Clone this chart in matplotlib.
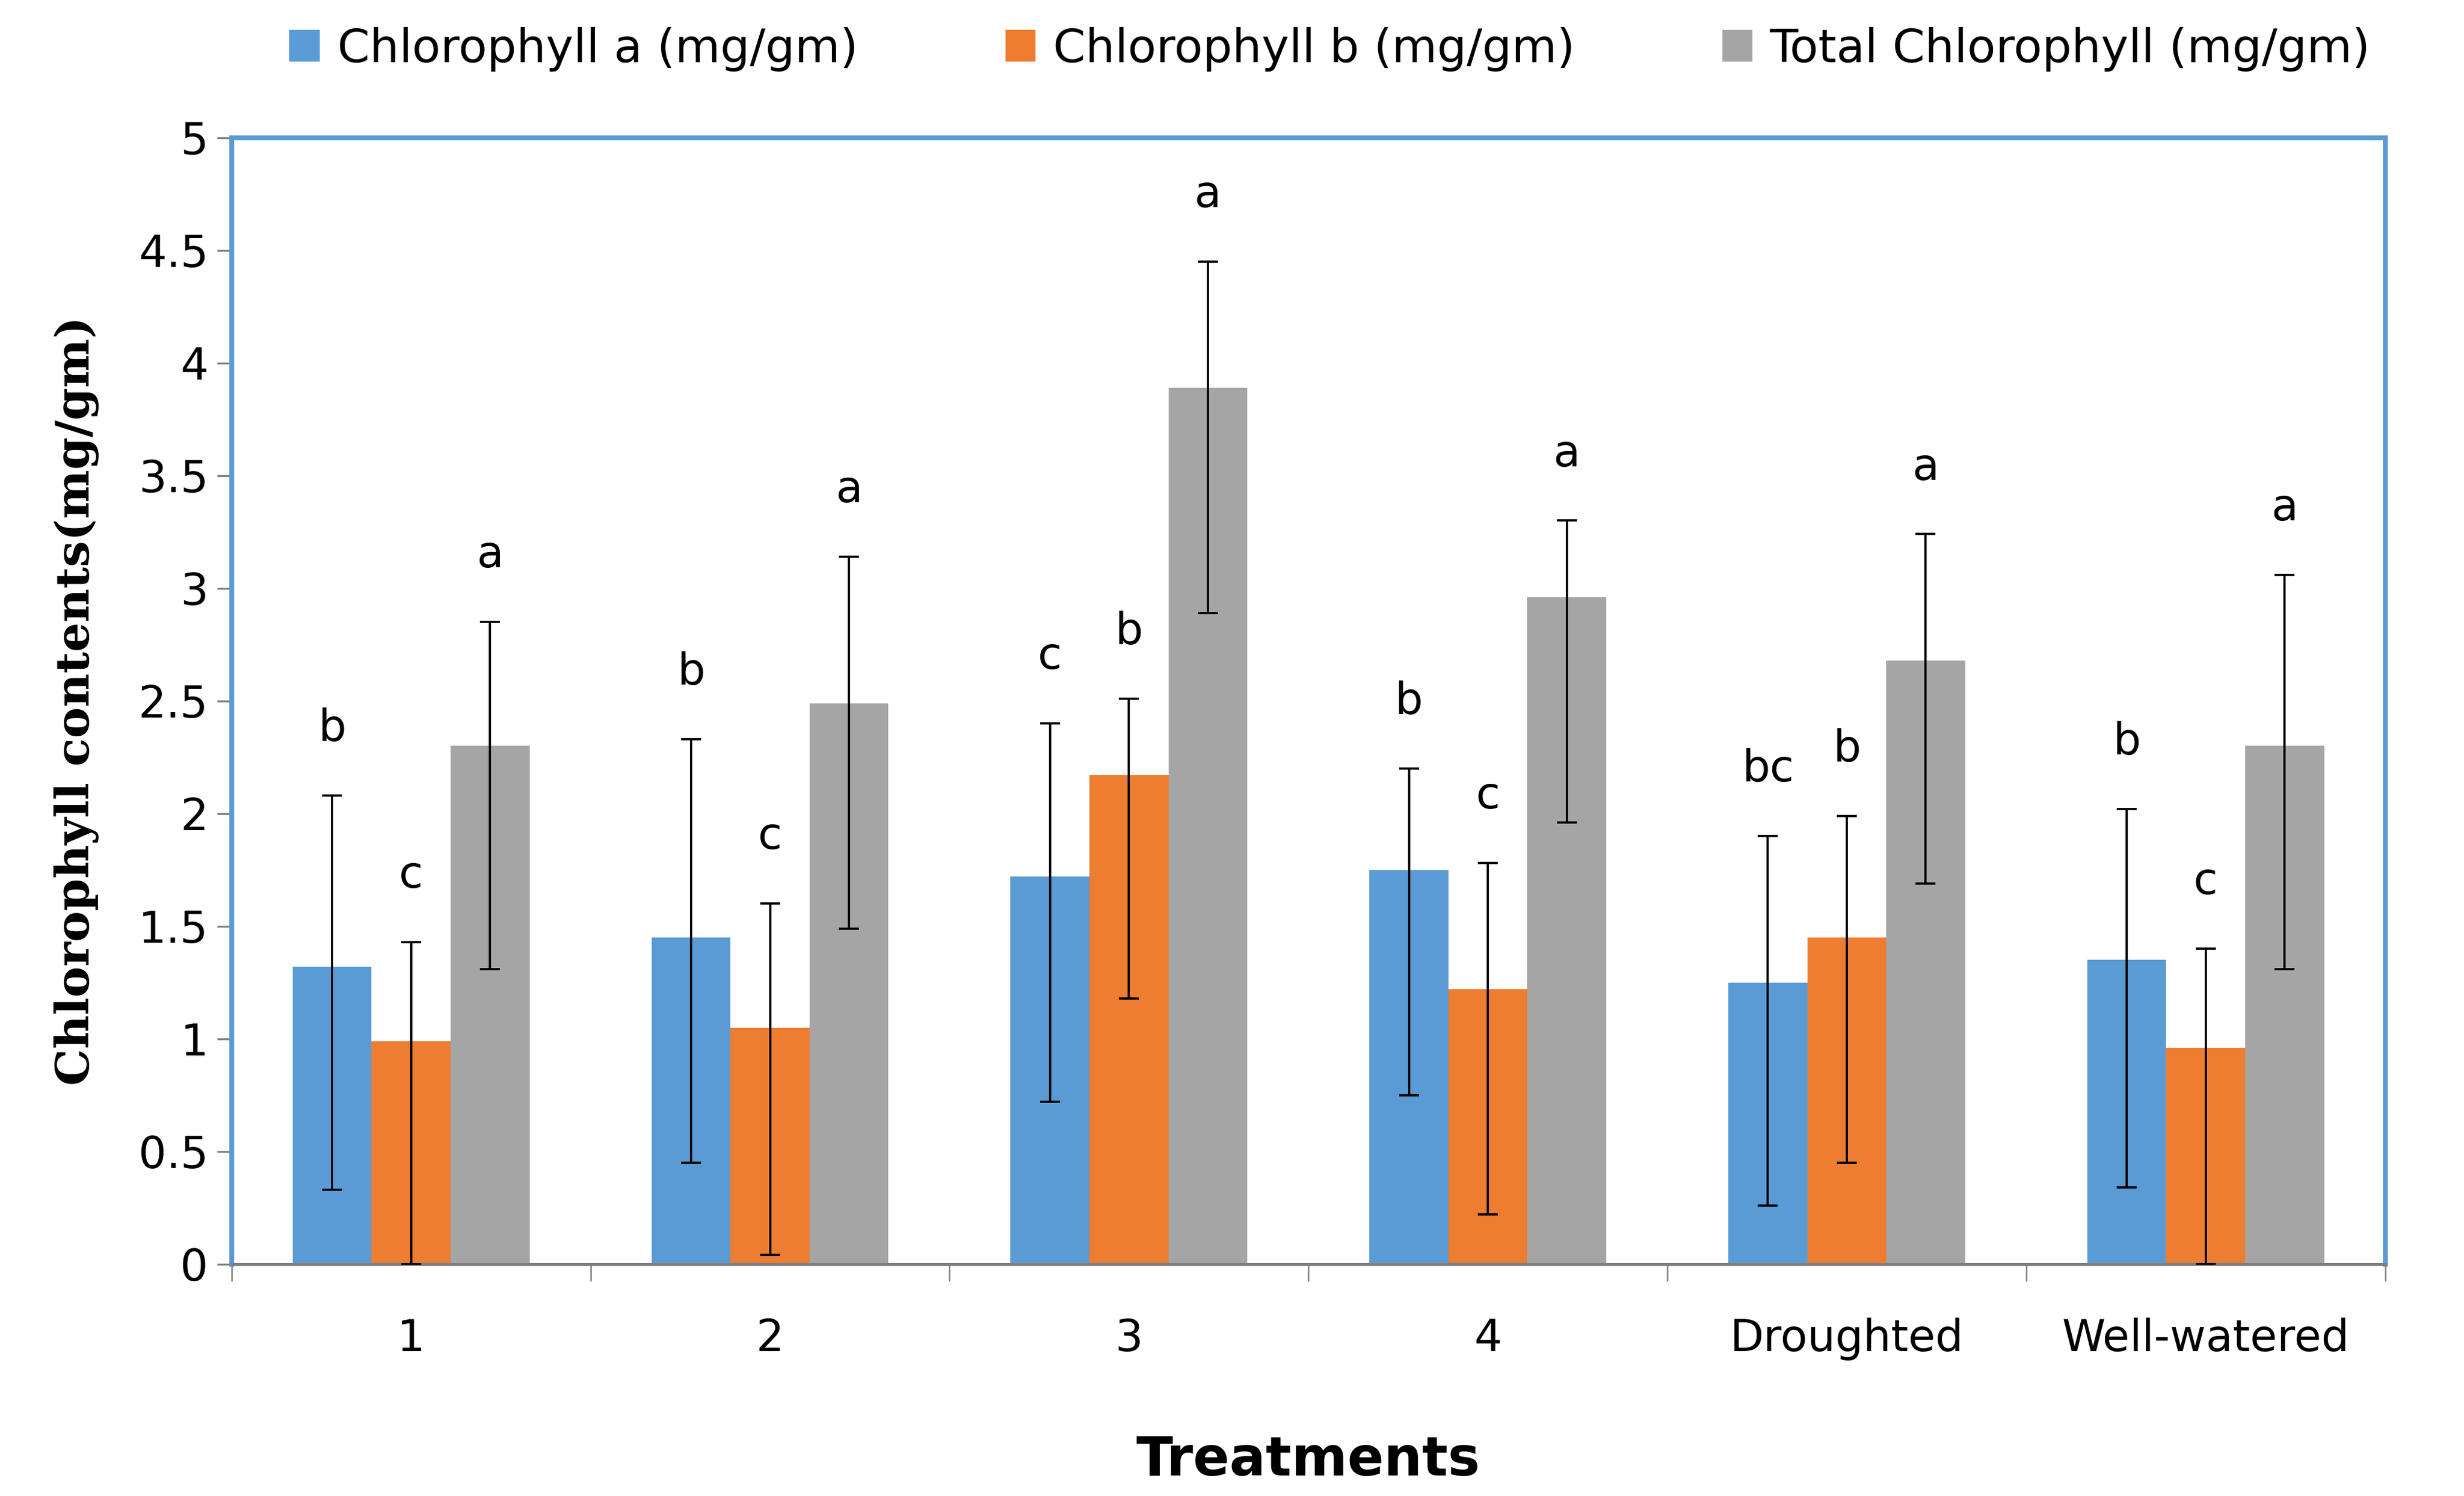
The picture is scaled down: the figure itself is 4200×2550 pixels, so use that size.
import numpy as np
import matplotlib.pyplot as plt
from matplotlib.patches import Patch

groups = ["1", "2", "3", "4", "Droughted", "Well-watered"]
chl_a = [1.32, 1.45, 1.72, 1.75, 1.25, 1.35]
chl_a_top = [2.08, 2.33, 2.40, 2.20, 1.90, 2.02]
chl_a_bot = [0.33, 0.45, 0.72, 0.75, 0.26, 0.34]
chl_b = [0.99, 1.05, 2.17, 1.22, 1.45, 0.96]
chl_b_top = [1.43, 1.60, 2.51, 1.78, 1.99, 1.40]
chl_b_bot = [0.00, 0.04, 1.18, 0.22, 0.45, 0.00]
total = [2.30, 2.49, 3.89, 2.96, 2.68, 2.30]
total_top = [2.85, 3.14, 4.45, 3.30, 3.24, 3.06]
total_bot = [1.31, 1.49, 2.89, 1.96, 1.69, 1.31]
letters_a = ["b", "b", "c", "b", "bc", "b"]
letters_b = ["c", "c", "b", "c", "b", "c"]
letters_t = ["a", "a", "a", "a", "a", "a"]

series = [
    ("Chlorophyll a (mg/gm)", chl_a, chl_a_top, chl_a_bot, letters_a, "#5b9bd5"),
    ("Chlorophyll b (mg/gm)", chl_b, chl_b_top, chl_b_bot, letters_b, "#ed7d31"),
    ("Total Chlorophyll (mg/gm)", total, total_top, total_bot, letters_t, "#a5a5a5"),
]

fig = plt.figure(figsize=(14, 8.5), dpi=300)
ax = fig.add_axes([0.094, 0.155, 0.874, 0.753])

x = np.arange(len(groups))
w = 0.22
for i, (name, vals, top, bot, lets, col) in enumerate(series):
    pos = x + (i - 1) * w
    vals = np.array(vals)
    err = [vals - np.array(bot), np.array(top) - vals]
    ax.bar(pos, vals, w, color=col, zorder=2)
    ax.errorbar(pos, vals, yerr=err, fmt="none", ecolor="black", elinewidth=0.9,
                capsize=4, capthick=0.9, zorder=3)
    for p, t, l in zip(pos, top, lets):
        ax.text(p, t + 0.2, l, ha="center", va="bottom", fontsize=18)

ax.set_xlim(-0.5, len(groups) - 0.5)
ax.set_ylim(0, 5)
ax.set_yticks(np.arange(0, 5.01, 0.5))
ax.set_yticklabels(["0", "0.5", "1", "1.5", "2", "2.5", "3", "3.5", "4", "4.5", "5"], fontsize=18)
ax.set_xticks(x)
ax.set_xticklabels(groups, fontsize=18)
ax.tick_params(axis="x", length=0, pad=22)
ax.set_xticks(np.arange(-0.5, len(groups), 1), minor=True)
ax.tick_params(axis="x", which="minor", length=7, color="#808080")
ax.tick_params(axis="y", length=6, color="#808080")
for s in ["top", "right", "left"]:
    ax.spines[s].set_color("#5b9bd5")
    ax.spines[s].set_linewidth(2)
ax.spines["bottom"].set_color("#808080")
ax.spines["bottom"].set_linewidth(1.2)

ax.set_ylabel("Chlorophyll contents(mg/gm)", fontsize=19, fontweight="bold",
              family="DejaVu Serif", labelpad=16)
ax.set_xlabel("Treatments", fontsize=22, fontweight="bold", labelpad=30)

handles = [Patch(color=c) for (_, _, _, _, _, c) in series]
labels = [s[0] for s in series]
fig.legend(handles, labels, loc="upper center", bbox_to_anchor=(0.54, 1.01), ncol=3,
           frameon=False, fontsize=19, handlelength=0.6, handleheight=0.6,
           handletextpad=0.4, columnspacing=3.2)

fig.savefig("out.png", dpi=300)
